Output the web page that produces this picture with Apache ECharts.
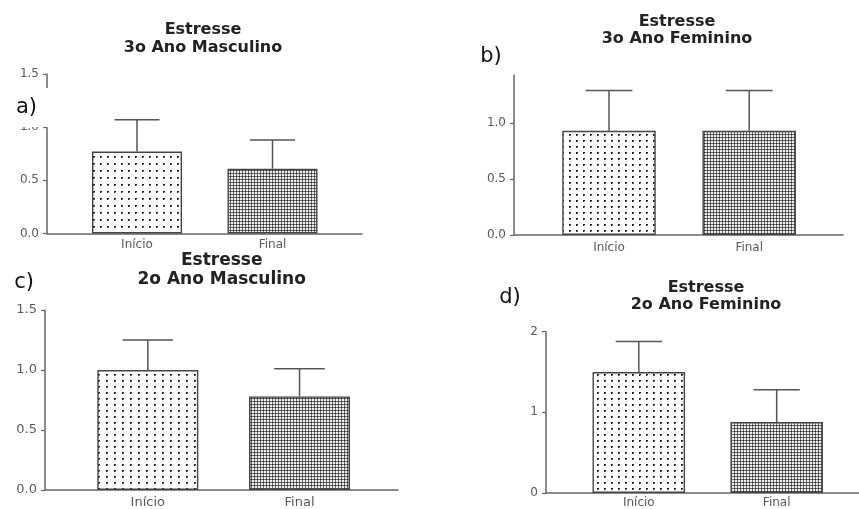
<!DOCTYPE html>
<html><head><meta charset="utf-8">
<script src="https://cdn.jsdelivr.net/npm/echarts@6/dist/echarts.min.js"></script>
<style>html,body{margin:0;padding:0;background:#fff}#c{width:859px;height:509px}</style>
</head><body><div id="c"></div>
<script>
// ---- data ----
const categories = ['Início', 'Final'];
const panelLabels = ['a)', 'b)', 'c)', 'd)'];
const panelTitles = ['Estresse\n3o Ano Masculino', 'Estresse\n3o Ano Feminino', 'Estresse\n2o Ano Masculino', 'Estresse\n2o Ano Feminino'];
const meansA = [0.77, 0.61];
const errA = [0.30, 0.27];
const meansB = [0.93, 0.93];
const errB = [0.36, 0.36];
const meansC = [1.00, 0.78];
const errC = [0.25, 0.23];
const meansD = [1.50, 0.88];
const errD = [0.38, 0.40];
const yTicksA = [0, 0.5, 1.0, 1.5];
const yTicksB = [0, 0.5, 1.0];
const yTicksC = [0, 0.5, 1.0, 1.5];
const yTicksD = [0, 1, 2];

const means = [meansA, meansB, meansC, meansD];
const errs = [errA, errB, errC, errD];
const yTicks = [yTicksA, yTicksB, yTicksC, yTicksD];
const yDecimals = [1, 1, 1, 0];

// ---- layout / style ----
const layout = [
  {left:47, top:74, width:315, height:159.5, xMin:0.3358, xMax:2.6605, yMax:1.5, barW:90, dotW:7, dotH:7, grid:3, yFont:12, xFont:12, xMargin:5, tFont:16, tLH:18, tx:203, ty:39, lx:26.5, ly:108},
  {left:514, top:75, width:329, height:160, xMin:0.3224, xMax:2.669, yMax:1.4286, barW:93.5, dotW:7, dotH:6, grid:3, yFont:12, xFont:12, xMargin:7, tFont:16, tLH:17.3, tx:677, ty:30.4, lx:491, ly:57},
  {left:45, top:310, width:353, height:180.7, xMin:0.3223, xMax:2.649, yMax:1.5, barW:101, dotW:8, dotH:6, grid:3, yFont:13, xFont:13, xMargin:6, tFont:17, tLH:19.3, tx:221.7, ty:270.4, lx:24, ly:283},
  {left:546, top:331.7, width:313, height:165, xMin:0.327, xMax:2.597, yMax:2, barW:92.5, dotW:7, dotH:6, grid:3, yFont:12, xFont:12, xMargin:4, tFont:16, tLH:17.3, tx:706, ty:296.4, lx:510, ly:298}
];

function dotPattern(w, h) {
  const c = document.createElement('canvas');
  c.width = w; c.height = h;
  const g = c.getContext('2d');
  g.fillStyle = '#ffffff'; g.fillRect(0, 0, w, h);
  g.fillStyle = '#9a9a9a'; g.fillRect(2, 2, 2, 2);
  g.fillStyle = '#1e1e1e'; g.fillRect(2, 2, 2, 1); g.fillRect(2, 3, 1, 1);
  return c;
}
function gridPattern(s) {
  const c = document.createElement('canvas');
  c.width = s; c.height = s;
  const g = c.getContext('2d');
  g.fillStyle = '#ececec'; g.fillRect(0, 0, s, s);
  g.fillStyle = '#6a6a6a'; g.fillRect(s - 1, 0, 1, s); g.fillRect(0, s - 1, s, 1);
  g.fillStyle = '#2e2e2e'; g.fillRect(s - 1, s - 1, 1, 1);
  return c;
}

const grids = [], xAxes = [], yAxes = [], series = [], graphics = [];
const axisCol = '#666';
const labelCol = '#5a5a5a';
const FONT = 'DejaVu Sans';

layout.forEach((L, i) => {
  grids.push({left: L.left, top: L.top, width: L.width, height: L.height, containLabel: false});
  xAxes.push({
    type: 'value', gridIndex: i, min: L.xMin, max: L.xMax,
    axisLine: {show: true, onZero: false, lineStyle: {color: axisCol, width: 1.5}},
    axisTick: {show: false}, splitLine: {show: false},
    axisLabel: {customValues: [1, 2], formatter: v => categories[Math.round(v) - 1] || '',
      color: labelCol, fontFamily: FONT, fontSize: L.xFont, margin: L.xMargin}
  });
  const dec = yDecimals[i];
  yAxes.push({
    type: 'value', gridIndex: i, min: 0, max: L.yMax,
    axisLine: {show: true, onZero: false, lineStyle: {color: axisCol, width: 1.5}},
    axisTick: {show: true, length: 4, customValues: yTicks[i], lineStyle: {color: axisCol, width: 1.2}},
    splitLine: {show: false},
    axisLabel: {customValues: yTicks[i], formatter: v => Number(v).toFixed(dec),
      color: labelCol, fontFamily: FONT, fontSize: L.yFont, margin: 8}
  });
  const pats = [{image: dotPattern(L.dotW, L.dotH), repeat: 'repeat'}, {image: gridPattern(L.grid), repeat: 'repeat'}];
  series.push({
    type: 'bar', xAxisIndex: i, yAxisIndex: i, barWidth: L.barW, silent: true,
    data: means[i].map((m, k) => ({value: [k + 1, m], itemStyle: {color: pats[k], borderColor: '#444', borderWidth: 1.4}})),
    z: 2
  });
  series.push({
    type: 'custom', xAxisIndex: i, yAxisIndex: i, silent: true, z: 3,
    encode: {x: 0, y: 1},
    data: means[i].map((m, k) => [k + 1, m, errs[i][k]]),
    renderItem: (params, api) => {
      const x = api.value(0), m = api.value(1), e = api.value(2);
      const p0 = api.coord([x, m]);
      const p1 = api.coord([x, m + e]);
      const half = L.barW / 4;
      const st = {stroke: '#555', lineWidth: 1.5};
      return {type: 'group', children: [
        {type: 'line', shape: {x1: p0[0], y1: p0[1], x2: p1[0], y2: p1[1]}, style: st},
        {type: 'line', shape: {x1: p1[0] - half, y1: p1[1], x2: p1[0] + half, y2: p1[1]}, style: st}
      ]};
    }
  });
  graphics.push({type: 'text', x: L.tx, y: L.ty, z: 100, style: {
    text: panelTitles[i], font: 'bold ' + L.tFont + 'px "' + FONT + '"', fill: '#222',
    align: 'center', verticalAlign: 'middle', lineHeight: L.tLH}});
});

// white patch behind the "a)" label (it interrupts axis a in the original)
graphics.push({type: 'rect', shape: {x: 0, y: 88, width: 60, height: 39}, style: {fill: '#fff'}, z: 90});
layout.forEach((L, i) => {
  graphics.push({type: 'text', x: L.lx, y: L.ly, z: 100, style: {
    text: panelLabels[i], font: '21px "' + FONT + '"', fill: '#111', align: 'center', verticalAlign: 'middle'}});
});

const chart = echarts.init(document.getElementById('c'), null, {renderer: 'canvas'});
chart.setOption({
  animation: false,
  backgroundColor: '#fff',
  grid: grids, xAxis: xAxes, yAxis: yAxes, series: series,
  graphic: {elements: graphics}
});
</script></body></html>
